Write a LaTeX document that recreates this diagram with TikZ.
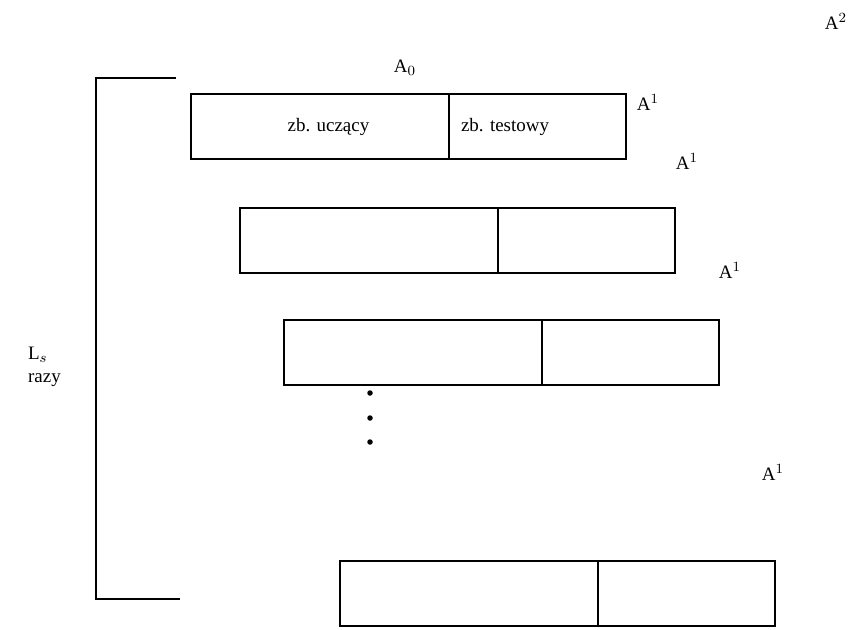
\documentclass[tikz,border=0pt]{standalone}
\usepackage{fontspec}
\setmainfont{Liberation Serif}
\usetikzlibrary{positioning}
\tikzset{
  uczacy/.style={
    draw,
    inner sep = 0pt,
    outer sep = 0pt,
    minimum width = 5.16cm,
    minimum height = 1.3cm,
    line width = 0.7pt
  },
  testowy/.style={
    uczacy,
    minimum width = 3.54cm
  },
  etykieta/.style={
    inner sep = 1pt,
    font = \fontsize{10.8}{13}\selectfont
  },
  kropka/.style={
    shape = circle,
    fill,
    inner sep = 0pt,
    minimum size = 0.11cm
  },
}
\begin{document}
\begin{tikzpicture}[x=0.02cm, y=-0.02cm]
\useasboundingbox (0,0) rectangle (862,629);
% bracket
\coordinate (gora) at (176,78);
\coordinate (dol) at (180,599);
\draw[line width=0.7pt] (gora) -- (96,78) -- (96,599) -- (dol);
\node[etykieta, anchor=west, align=left] (ls) at (26,367) {L$_s$\\razy};
% boxes
\foreach \x/\y/\n in {191/94/1, 240/208/2, 284/320/3, 340/561/4}{
  \node[uczacy, anchor=north west] (u\n) at (\x,\y) {};
  \node[testowy, anchor=north west] (t\n) at (u\n.north east) {};
}
\node[etykieta] (tu) at (u1.center) [xshift=0.17cm] {zb. uczący};
\node[etykieta, anchor=west] (tt) at (t1.west) [xshift=0.2cm] {zb. testowy};
% labels
\node[etykieta] (a0) at (405,68) {A$_0$};
\node[etykieta] (a2) at (836,21) {A$^2$};
\foreach \x/\y in {648/102, 687/161, 730/270, 773/472}{
  \node[etykieta] at (\x,\y) {A$^1$};
}
% dots
\foreach \y in {393,418,442}{
  \node[kropka] at (370,\y) {};
}
\end{tikzpicture}
\end{document}
